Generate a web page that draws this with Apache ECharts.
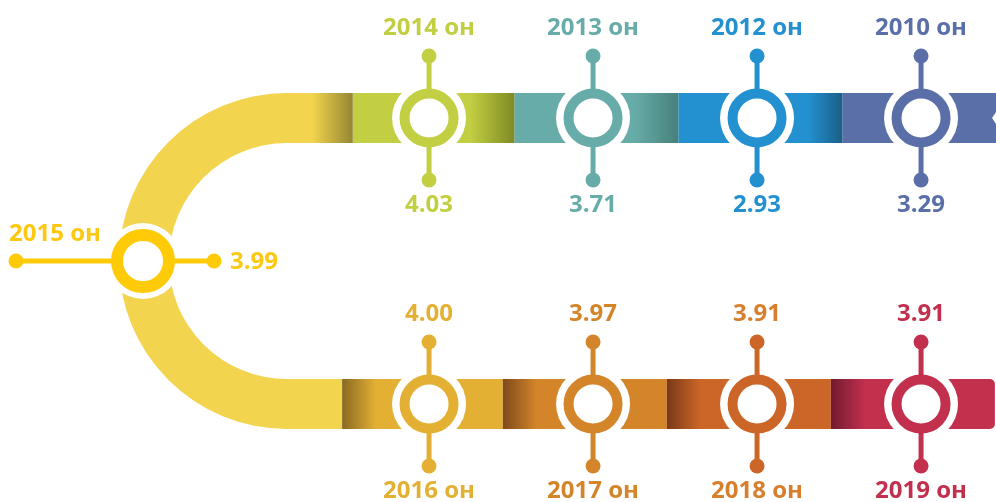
<!DOCTYPE html>
<html>
<head>
<meta charset="utf-8">
<script src="https://cdn.jsdelivr.net/npm/echarts@6/dist/echarts.min.js"></script>
<style>
  html, body { margin: 0; padding: 0; background: #fff; }
  #main { width: 996px; height: 502px; }
</style>
</head>
<body>
<div id="main"></div>
<script>
// timeline order: top row right -> left, the turn, bottom row left -> right
var years = ['2010', '2012', '2013', '2014', '2015', '2016', '2017', '2018', '2019'];
var values = [3.29, 2.93, 3.71, 4.03, 3.99, 4.00, 3.97, 3.91, 3.91];

var colors = ['#5a6ea8', '#2390d0', '#67aca8', '#c2cf42', '#ffcb08', '#e3b033', '#d4852a', '#cc6628', '#c2304e'];
var darkColors = ['#5a6ea8', '#1b5f86', '#47807c', '#7f8a25', '#958634', '#8a6a22', '#7e4a1c', '#7a3a18', '#711a30'];
var textColors = ['#5a6ea8', '#2390d0', '#67aca8', '#c2cf42', '#fcc812', '#e3b033', '#d4852a', '#d77f2c', '#c2304e'];
var arcColor = '#f2d44e';

var myChart = echarts.init(document.getElementById('main'));

// column / row of each year on the hidden axes
function slot(i) {
    if (i < 4) return [3 - i, 0];
    if (i === 4) return [-1.744, 1];
    return [i - 5, 2];
}
var nodes = years.map(function (y, i) {
    var s = slot(i);
    return [s[0], s[1], values[i], i];
});

var FONT = 'Open Sans';
var HALF = 25; // half band thickness

function grad(base, dark, w, len, darkRight) {
    var p = Math.min(0.99, len / w);
    var stops = darkRight
        ? [{offset: 0, color: base}, {offset: 1 - p, color: base}, {offset: 1, color: dark}]
        : [{offset: 0, color: dark}, {offset: p, color: base}, {offset: 1, color: base}];
    return new echarts.graphic.LinearGradient(0, 0, 1, 0, stops);
}

function renderBand(params, api) {
    var i = api.value(3);
    var col = api.value(0);
    var c = api.coord([col, api.value(1)]);
    var kids = [];
    if (i === 4) {
        var topY = api.coord([0, 0])[1];
        var botY = api.coord([0, 2])[1];
        var r = (botY - topY) / 2;
        var cy = (topY + botY) / 2;
        var cx = c[0] + 144;
        var topEnd = api.coord([-0.465, 0])[0];
        var botEnd = api.coord([-0.53, 2])[0];
        kids.push({
            type: 'sector',
            shape: {cx: cx, cy: cy, r0: r - HALF, r: r + HALF, startAngle: Math.PI / 2, endAngle: Math.PI * 3 / 2},
            style: {fill: arcColor}
        });
        kids.push({
            type: 'rect',
            shape: {x: cx - 1, y: topY - HALF, width: topEnd - cx + 1, height: HALF * 2},
            style: {fill: grad(arcColor, darkColors[4], topEnd - cx, 40, true)}
        });
        kids.push({
            type: 'rect',
            shape: {x: cx - 1, y: botY - HALF, width: botEnd - cx + 1, height: HALF * 2},
            style: {fill: arcColor}
        });
    } else if (i < 4) {
        var x0 = api.coord([col === 0 ? -0.465 : col - 0.48, 0])[0];
        var x1 = col === 3 ? params.coordSys.x + params.coordSys.width + 2 : api.coord([col + 0.52, 0])[0];
        var w = x1 - x0;
        kids.push({
            type: 'rect',
            shape: {x: x0, y: c[1] - HALF, width: w, height: HALF * 2},
            style: {fill: col === 3 ? colors[i] : grad(colors[i], darkColors[i], w, col === 2 ? 34 : 44, true)}
        });
        if (col === 3) {
            kids.push({
                type: 'polygon',
                shape: {points: [[x1 - 6, c[1]], [x1, c[1] - 9], [x1, c[1] + 9]]},
                style: {fill: '#fff'}
            });
        }
    } else {
        var bx0 = api.coord([col === 0 ? -0.53 : col - 0.55, 2])[0];
        var bx1 = api.coord([col + 0.45, 2])[0];
        var bw = bx1 - bx0;
        kids.push({
            type: 'rect',
            shape: {x: bx0, y: c[1] - HALF, width: bw, height: HALF * 2, r: col === 3 ? [0, 5, 5, 0] : 0},
            style: {fill: grad(colors[i], darkColors[i], bw, 34, false)}
        });
    }
    return {type: 'group', children: kids};
}

function label(text, x, y, color, align) {
    return {
        type: 'text',
        style: {
            text: text, x: x, y: y, fill: color,
            fontFamily: FONT, fontWeight: 'bold', fontSize: 24,
            align: align || 'center', verticalAlign: 'middle'
        }
    };
}

function renderNode(params, api) {
    var i = api.value(3);
    var c = api.coord([api.value(0), api.value(1)]);
    var x = c[0], y = c[1];
    var col = colors[i];
    var yearText = years[i] + ' он';
    var valText = api.value(2).toFixed(2);
    var kids = [];
    if (i === 4) {
        kids.push({type: 'circle', shape: {cx: x, cy: y, r: 38}, style: {fill: '#fff'}});
        kids.push({type: 'line', shape: {x1: x - 127, y1: y, x2: x + 71, y2: y}, style: {stroke: col, lineWidth: 5}});
        kids.push({type: 'circle', shape: {cx: x - 127, cy: y, r: 7.5}, style: {fill: col}});
        kids.push({type: 'circle', shape: {cx: x + 71, cy: y, r: 7.5}, style: {fill: col}});
        kids.push({type: 'circle', shape: {cx: x, cy: y, r: 26}, style: {fill: '#fff', stroke: col, lineWidth: 12}});
        kids.push(label(yearText, x - 134, y - 27, textColors[i], 'left'));
        kids.push(label(valText, x + 87, y + 1, textColors[i], 'left'));
    } else {
        kids.push({type: 'circle', shape: {cx: x, cy: y, r: 37}, style: {fill: '#fff'}});
        kids.push({type: 'line', shape: {x1: x, y1: y - 62, x2: x, y2: y + 62}, style: {stroke: col, lineWidth: 5}});
        kids.push({type: 'circle', shape: {cx: x, cy: y - 62, r: 7.5}, style: {fill: col}});
        kids.push({type: 'circle', shape: {cx: x, cy: y + 62, r: 7.5}, style: {fill: col}});
        kids.push({type: 'circle', shape: {cx: x, cy: y, r: 24.5}, style: {fill: '#fff', stroke: col, lineWidth: 10}});
        var above = i < 4 ? yearText : valText;
        var below = i < 4 ? valText : yearText;
        kids.push(label(above, x, y - 90, textColors[i]));
        kids.push(label(below, x, y + 87, textColors[i]));
    }
    return {type: 'group', children: kids};
}

var option = {
    animation: false,
    grid: {left: 0, right: 0, top: 0, bottom: 0},
    xAxis: {type: 'value', min: -2.616, max: 3.457, show: false},
    yAxis: {type: 'value', min: -0.825, max: 2.685, inverse: true, show: false},
    series: [
        {type: 'custom', name: 'band', renderItem: renderBand, data: nodes, clip: false, silent: true, z: 1},
        {type: 'custom', name: 'node', renderItem: renderNode, data: nodes, clip: false, silent: true, z: 2}
    ]
};

myChart.setOption(option);
</script>
</body>
</html>
